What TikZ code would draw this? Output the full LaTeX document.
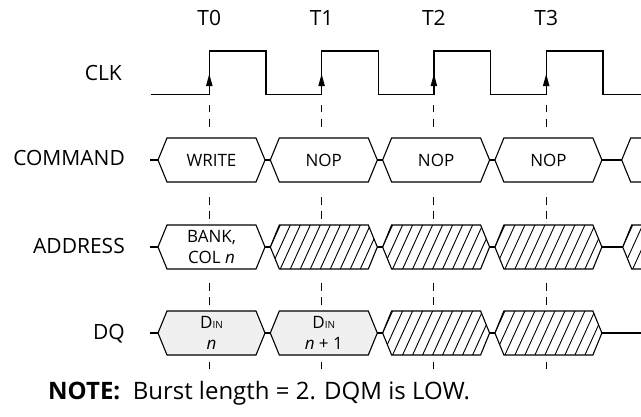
\documentclass[tikz,border=0pt]{standalone}
\usepackage{fontspec}
\setmainfont{Open Sans}
\begin{document}
\begin{tikzpicture}[x=1pt,y=-1pt,
  wire/.style={line width=1.2pt,line cap=butt,line join=miter},
  busline/.style={line width=1.1pt,line join=miter},
  hatchline/.style={line width=0.9pt},
  dashseg/.style={line width=1.1pt},
  lbl/.style={font=\fontsize{21}{25}\selectfont,inner sep=0pt},
  boxtxt/.style={font=\fontsize{17}{21}\selectfont,inner sep=0pt,align=center},
  notetxt/.style={font=\fontsize{24}{28}\selectfont,inner sep=0pt,anchor=west}]
\useasboundingbox (0,0) rectangle (641,416);
\fill[white] (0,0) rectangle (641,416);
% clock
\draw[wire] (151,94.5) -- (209.3,94.5) -- (209.3,51) -- (266,51) -- (266,94.5)
  -- (321.6,94.5) -- (321.6,51) -- (378.3,51) -- (378.3,94.5)
  -- (433.9,94.5) -- (433.9,51) -- (490.6,51) -- (490.6,94.5)
  -- (546.2,94.5) -- (546.2,51) -- (602.9,51) -- (602.9,94.5) -- (641,94.5);
\node[lbl,anchor=east] (clk) at (122,73) {CLK};
\node[lbl,anchor=east] (cmd) at (125,158) {COMMAND};
\node[lbl,anchor=east] (addr) at (125,246) {ADDRESS};
\node[lbl,anchor=east] (dq) at (125,334) {DQ};
\foreach \k in {0,1,2,3} {
  \pgfmathsetmacro\r{209.3+\k*112.3}
  \node[lbl] (t\k) at (\r,18) {T\k};
  \fill ({\r-3.3},86) -- (\r,74) -- ({\r+3.3},86) -- cycle;
  \foreach \a/\b in {105/112,119/127,197/205,211/219,283/291,297/305,362/369}
    \draw[dashseg] (\r,\a) -- (\r,\b);
}
% left stubs
\foreach \yc in {160,247,333} \draw[busline] (150,\yc) -- (158,\yc);
% generic hexagons
\def\hex#1#2#3{(#1,#3) -- ({#1+9},{#3-22}) -- ({#2-9},{#3-22}) -- (#2,#3) -- ({#2-9},{#3+22}) -- ({#1+9},{#3+22}) -- cycle}
% COMMAND row
\foreach \k/\t in {0/WRITE,1/NOP,2/NOP,3/NOP} {
  \pgfmathsetmacro\L{158+\k*112.3}
  \pgfmathsetmacro\R{265+\k*112.3}
  \draw[busline,fill=white] \hex{\L}{\R}{160};
  \node[boxtxt] (c\k) at ({(\L+\R)/2},160) {\t};
}
\foreach \k in {0,1,2} {
  \pgfmathsetmacro\R{265+\k*112.3}
  \pgfmathsetmacro\N{270.3+\k*112.3}
  \draw[busline] (\R,160) -- (\N,160);
  \draw[busline] (\R,247) -- (\N,247);
  \draw[busline] (\R,333) -- (\N,333);
}
\draw[busline] (601.9,160) -- (621.7,160);
\draw[busline] (645,138) -- (630.7,138) -- (621.7,160) -- (630.7,182) -- (645,182);
% ADDRESS row
\draw[busline,fill=white] \hex{158}{265}{247};
\node[boxtxt] (a0) at (211.5,247) {BANK,\\COL \textit{n}};
\foreach \L/\R in {270.3/377.3,382.6/489.6,494.9/601.9} {
  \begin{scope}
    \clip \hex{\L}{\R}{247};
    \foreach \d in {-30,-20,...,120} \draw[hatchline] ({\L+\d},269) -- ({\L+\d+20},225);
  \end{scope}
  \draw[busline] \hex{\L}{\R}{247};
}
\draw[busline] (601.9,247) -- (622.7,247);
\begin{scope}
  \clip (622.7,247) -- (631.7,225) -- (641,225) -- (641,269) -- (631.7,269) -- cycle;
  \foreach \d in {-30,-20,...,30} \draw[hatchline] ({622.7+\d},269) -- ({622.7+\d+20},225);
\end{scope}
\draw[busline] (645,225) -- (631.7,225) -- (622.7,247) -- (631.7,269) -- (645,269);
% DQ row
\draw[busline,fill=black!6] \hex{158}{265}{333};
\node[boxtxt] (d0) at (211.5,333) {D{\fontsize{10}{10}\selectfont IN}\\\textit{n}};
\draw[busline,fill=black!6] \hex{270.3}{377.3}{333};
\node[boxtxt] (d1) at (323.8,333) {D{\fontsize{10}{10}\selectfont IN}\\\textit{n} + 1};
\foreach \L/\R in {382.6/489.6,494.9/601.9} {
  \begin{scope}
    \clip \hex{\L}{\R}{333};
    \foreach \d in {-30,-20,...,120} \draw[hatchline] ({\L+\d},355) -- ({\L+\d+20},311);
  \end{scope}
  \draw[busline] \hex{\L}{\R}{333};
}
\draw[busline] (601.9,333) -- (641,333);
% note
\node[notetxt] (note) at (48,393) {\textbf{NOTE:}\ \ Burst length = 2. DQM is LOW.};
\end{tikzpicture}
\end{document}
